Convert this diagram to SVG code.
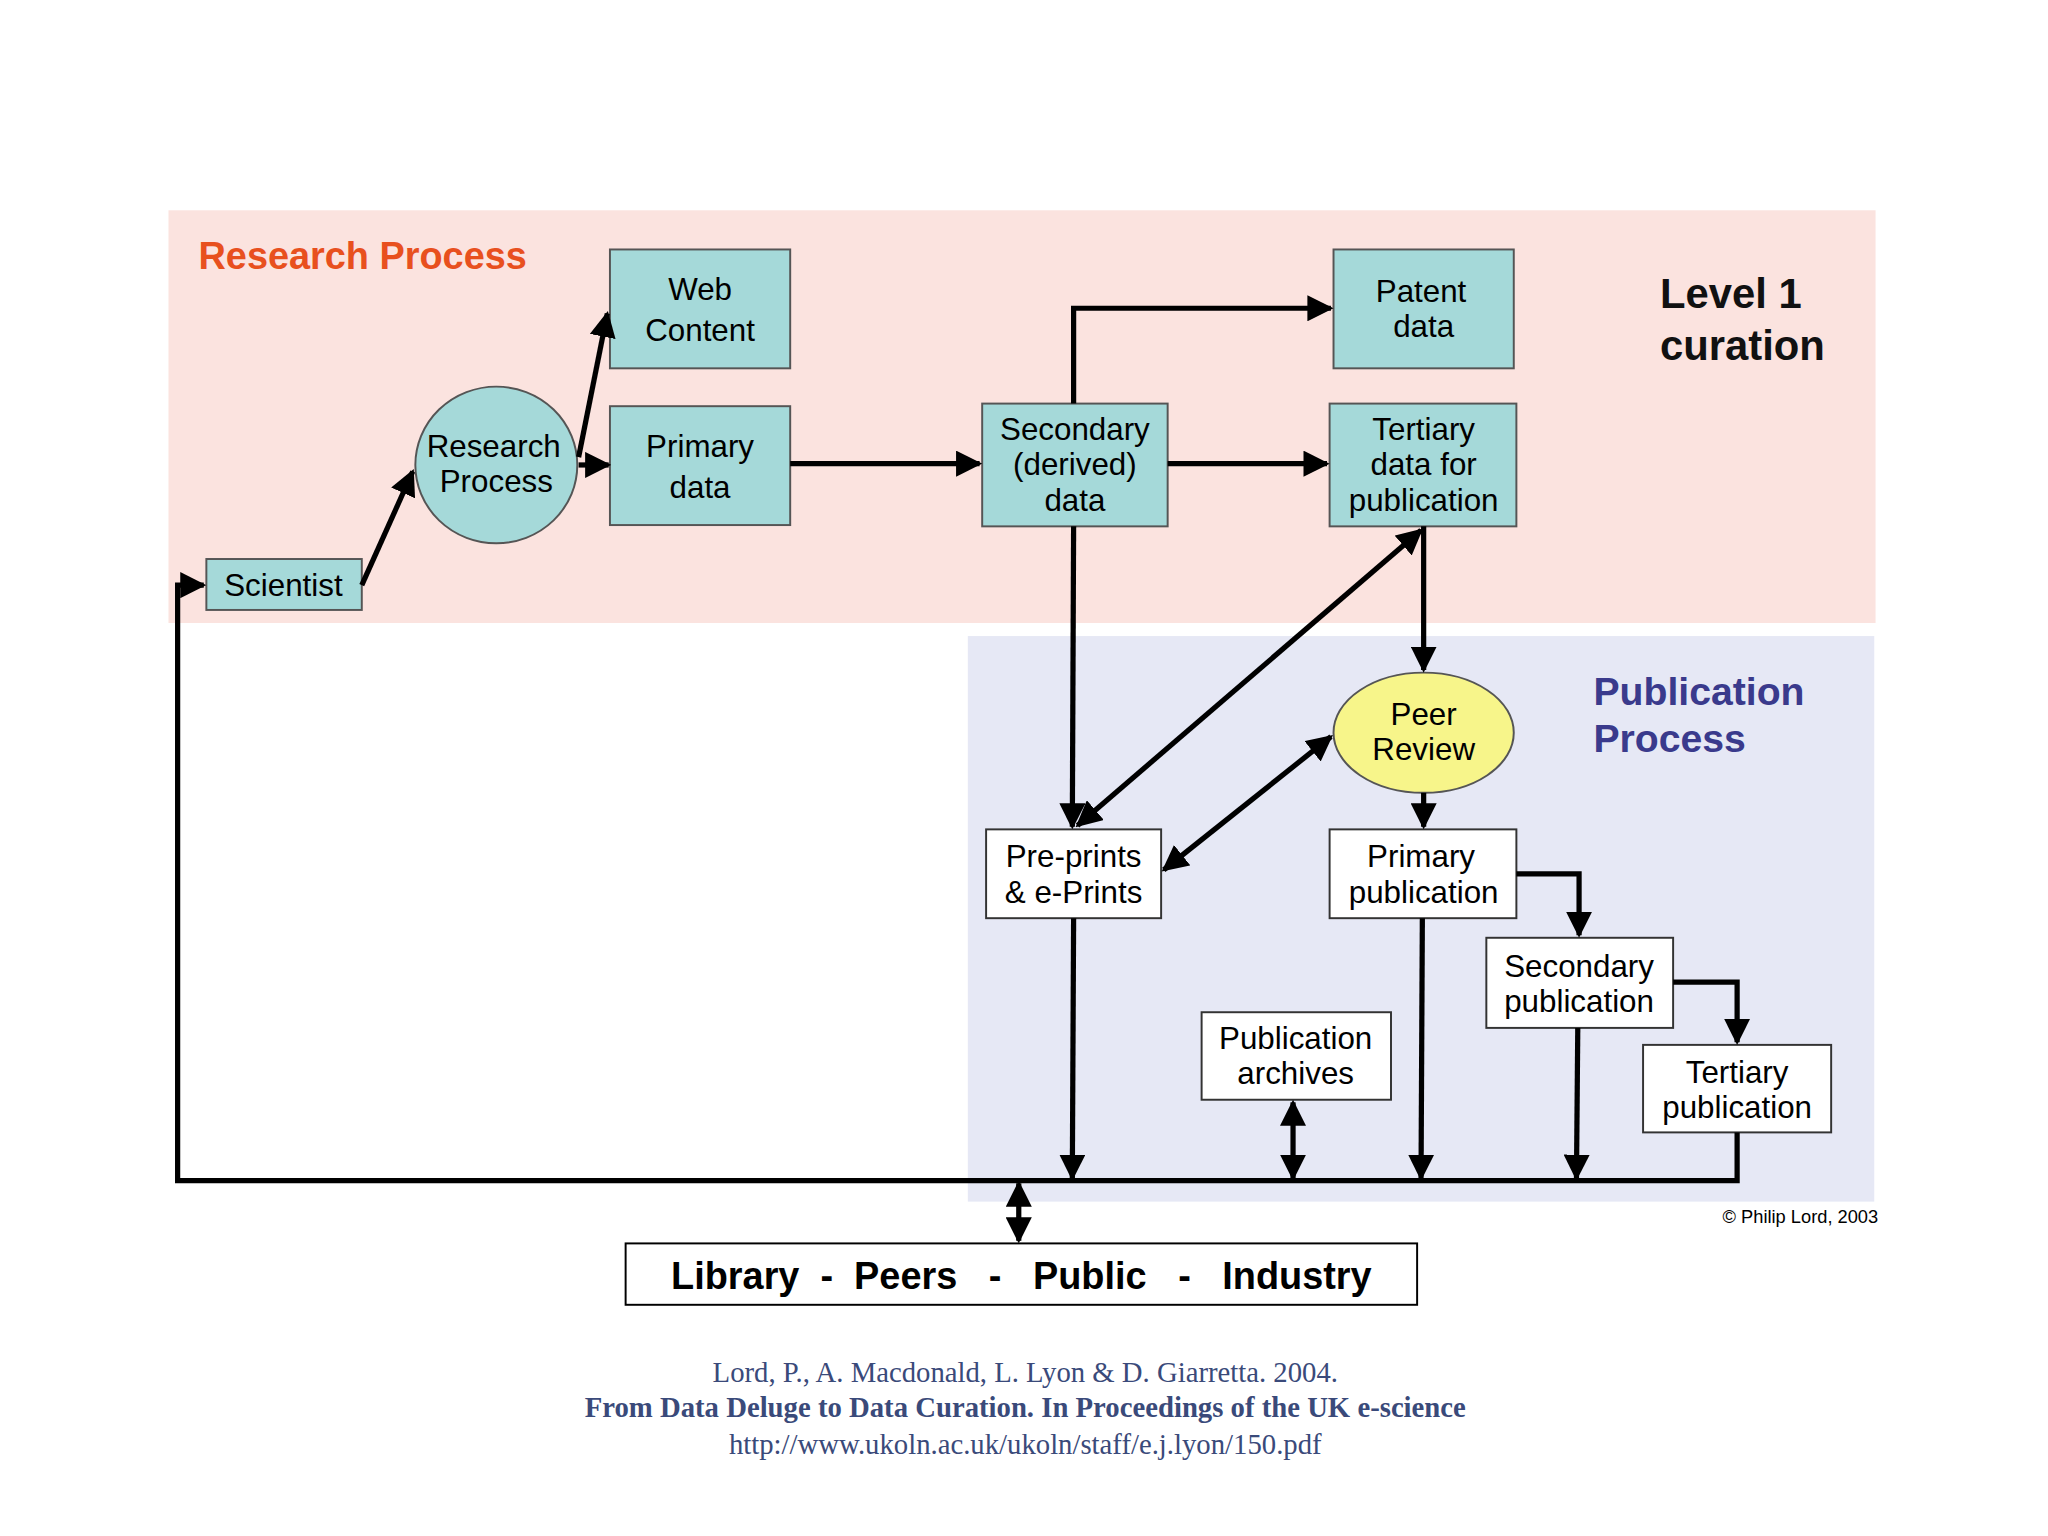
<svg xmlns="http://www.w3.org/2000/svg" width="2048" height="1536" viewBox="0 0 2048 1536">
<defs>
<marker id="ah" viewBox="0 0 10 10" refX="9" refY="5" markerWidth="5" markerHeight="5" orient="auto-start-reverse" markerUnits="strokeWidth"><path d="M0,0L10,5L0,10z" fill="#000"/></marker>
<style>
.t{font-family:"Liberation Sans",Arial,sans-serif;font-size:24px;fill:#000;text-anchor:middle}
.b{fill:#a5d9d9;stroke:#555;stroke-width:1.5}
.w{fill:#fff;stroke:#333;stroke-width:1.5}
.c line,.c path{stroke:#000;stroke-width:4;fill:none}
.a{marker-end:url(#ah)}
.d{marker-start:url(#ah);marker-end:url(#ah)}
.cit{font-family:"Liberation Serif","Times New Roman",serif;font-size:22px;fill:#3a4a7a;text-anchor:middle}
</style>
</defs>
<rect width="2048" height="1536" fill="#fff"/>
<g transform="scale(1.3061)">
<rect x="129" y="161" width="1307" height="316" fill="#fbe3df"/>
<rect x="741" y="487" width="694" height="433" fill="#e6e8f5"/>
<text x="152" y="206" font-family="Liberation Sans,Arial,sans-serif" font-weight="bold" font-size="29" fill="#e8501e">Research Process</text>
<text font-family="Liberation Sans,Arial,sans-serif" font-weight="bold" font-size="32" fill="#111"><tspan x="1271" y="236">Level 1</tspan><tspan x="1271" y="276">curation</tspan></text>
<text font-family="Liberation Sans,Arial,sans-serif" font-weight="bold" font-size="30" fill="#3a3a8c"><tspan x="1220" y="540">Publication</tspan><tspan x="1220" y="576">Process</tspan></text>
<g id="web"><rect class="b" x="467" y="191" width="138" height="91"/><text class="t" x="536" y="230">Web</text><text class="t" x="536" y="261">Content</text></g>
<g id="primary"><rect class="b" x="467" y="311" width="138" height="91"/><text class="t" x="536" y="350">Primary</text><text class="t" x="536" y="381">data</text></g>
<g id="rp"><ellipse class="b" cx="380" cy="356" rx="62" ry="60"/><text class="t" x="378" y="350" font-size="22">Research</text><text class="t" x="380" y="377" font-size="22">Process</text></g>
<g id="sci"><rect class="b" x="158" y="428" width="119" height="39"/><text class="t" x="217" y="456" font-size="22">Scientist</text></g>
<g id="sec"><rect class="b" x="752" y="309" width="142" height="94"/><text class="t" x="823" y="337" font-size="22">Secondary</text><text class="t" x="823" y="364" font-size="22">(derived)</text><text class="t" x="823" y="391" font-size="22">data</text></g>
<g id="patent"><rect class="b" x="1021" y="191" width="138" height="91"/><text class="t" x="1088" y="231" font-size="22">Patent</text><text class="t" x="1090" y="258" font-size="22">data</text></g>
<g id="tert"><rect class="b" x="1018" y="309" width="143" height="94"/><text class="t" x="1090" y="337" font-size="22">Tertiary</text><text class="t" x="1090" y="364" font-size="22">data for</text><text class="t" x="1090" y="391" font-size="22">publication</text></g>
<g id="peer"><ellipse cx="1090" cy="561" rx="69" ry="46" fill="#f7f58a" stroke="#555" stroke-width="1.5"/><text class="t" x="1090" y="555" font-size="22">Peer</text><text class="t" x="1090" y="582" font-size="22">Review</text></g>
<g id="pre"><rect class="w" x="755" y="635" width="134" height="68"/><text class="t" x="822" y="664" font-size="22">Pre-prints</text><text class="t" x="822" y="691" font-size="22">&amp; e-Prints</text></g>
<g id="ppub"><rect class="w" x="1018" y="635" width="143" height="68"/><text class="t" x="1088" y="664" font-size="22">Primary</text><text class="t" x="1090" y="691" font-size="22">publication</text></g>
<g id="spub"><rect class="w" x="1138" y="718" width="143" height="69"/><text class="t" x="1209" y="748" font-size="22">Secondary</text><text class="t" x="1209" y="775" font-size="22">publication</text></g>
<g id="tpub"><rect class="w" x="1258" y="800" width="144" height="67"/><text class="t" x="1330" y="829" font-size="22">Tertiary</text><text class="t" x="1330" y="856" font-size="22">publication</text></g>
<g id="arch"><rect class="w" x="920" y="775" width="145" height="67"/><text class="t" x="992" y="803" font-size="22">Publication</text><text class="t" x="992" y="830" font-size="22">archives</text></g>
<g id="lib"><rect x="479" y="952" width="606" height="47" fill="#fff" stroke="#000" stroke-width="1.5"/><text x="782" y="987" font-family="Liberation Sans,Arial,sans-serif" font-weight="bold" font-size="29" text-anchor="middle" xml:space="preserve">Library  -  Peers   -   Public   -   Industry</text></g>
<g class="c">
<line class="a" x1="277" y1="448" x2="316" y2="361"/>
<line class="a" x1="443" y1="350" x2="465" y2="240"/>
<line class="a" x1="443" y1="356" x2="466" y2="356"/>
<line class="a" x1="605" y1="355" x2="750" y2="355"/>
<path class="a" d="M822,309V236H1019"/>
<line class="a" x1="894" y1="355" x2="1016" y2="355"/>
<line class="a" x1="822" y1="403" x2="821" y2="633"/>
<line class="a" x1="1090" y1="403" x2="1090" y2="513"/>
<line class="d" x1="1088" y1="406" x2="825" y2="632"/>
<line class="d" x1="1019" y1="564" x2="891" y2="666"/>
<line class="a" x1="1090" y1="607" x2="1090" y2="633"/>
<path class="a" d="M1161,669H1209V716"/>
<path class="a" d="M1281,752H1330V798"/>
<line class="a" x1="822" y1="703" x2="821" y2="902"/>
<line class="a" x1="1089" y1="703" x2="1088" y2="902"/>
<line class="a" x1="1208" y1="787" x2="1207" y2="902"/>
<line class="d" x1="990" y1="844" x2="990" y2="902"/>
<path class="a" d="M1330,867V904H136V448H156"/>
<line class="d" x1="780" y1="906" x2="780" y2="950"/>
</g>
<text x="1438" y="936" font-family="Liberation Sans,Arial,sans-serif" font-size="14" text-anchor="end">© Philip Lord, 2003</text>
<text class="cit" x="785" y="1058">Lord, P., A. Macdonald, L. Lyon &amp; D. Giarretta. 2004.</text>
<text class="cit" x="785" y="1085" font-weight="bold">From Data Deluge to Data Curation. In Proceedings of the UK e-science</text>
<text class="cit" x="785" y="1113" fill="#3a4ac8">http://www.ukoln.ac.uk/ukoln/staff/e.j.lyon/150.pdf</text>
</g>
</svg>
